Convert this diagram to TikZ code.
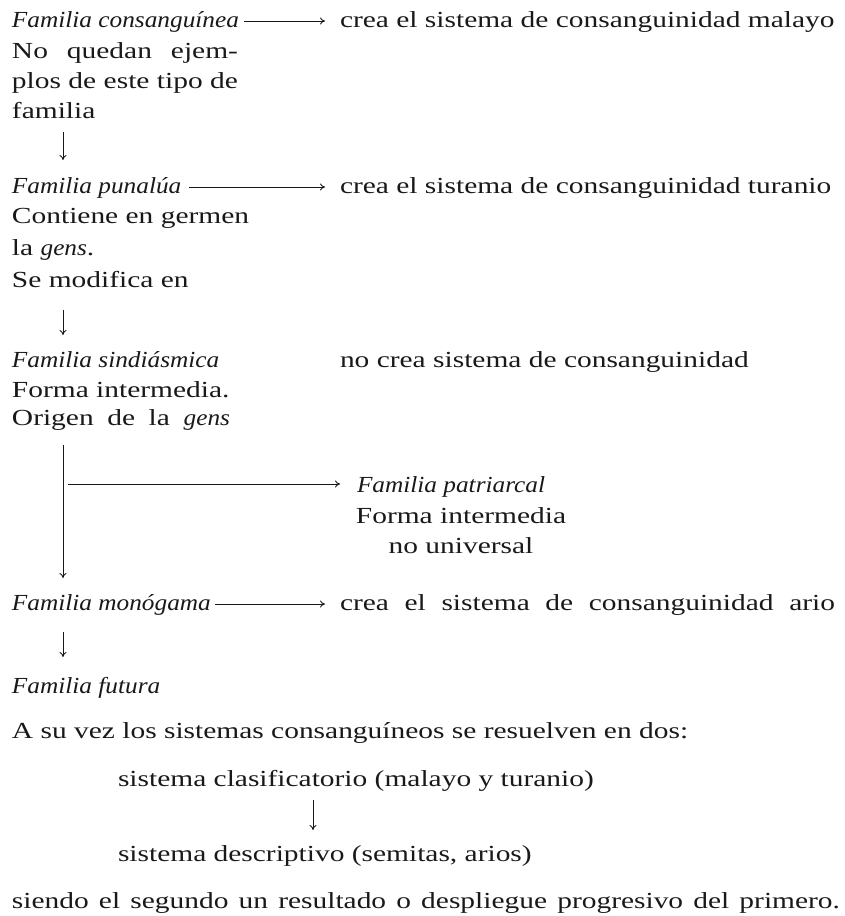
\documentclass[tikz,border=0pt]{standalone}
\usepackage{fontspec}
\setmainfont[FakeStretch=1.28]{Liberation Serif}
\newfontfamily\itf[FakeStretch=1.1]{Liberation Serif Italic}
\newcommand\ital[1]{{\itf #1}}
\usetikzlibrary{arrows.meta}
\begin{document}
\begin{tikzpicture}[x=1pt,y=-1pt,
  txt/.style={anchor=base west, inner sep=0pt, outer sep=0pt, text=black!90,
    font=\fontsize{23pt}{30pt}\selectfont},
  ctxt/.style={txt, anchor=base},
  arr/.style={draw=black!90, line width=0.9pt, -{To[length=5pt,width=7pt]}}]
\useasboundingbox (0,0) rectangle (844,916);
\coordinate (ax) at (63,0);
\coordinate (bx) at (313,0);
% Familia consanguinea
\node[txt] (c1) at (12,27) {\ital{Familia consanguínea}};
\node[txt] (r1) at (340,27) {crea el sistema de consanguinidad malayo};
\node[txt] (l1a) at (12,58) {\makebox[226pt][s]{No quedan ejem-}};
\node[txt] (l1b) at (12,88) {\makebox[226pt][s]{plos de este tipo de}};
\node[txt] (l1c) at (12,118) {familia};
% Familia punalua
\node[txt] (c2) at (12,193) {\ital{Familia punalúa}};
\node[txt] (r2) at (340,193) {crea el sistema de consanguinidad turanio};
\node[txt] (l2a) at (12,223) {Contiene en germen};
\node[txt] (l2b) at (12,255) {la \ital{gens}.};
\node[txt] (l2c) at (12,287) {Se modifica en};
% Familia sindiasmica
\node[txt] (c3) at (12,367) {\ital{Familia sindiásmica}};
\node[txt] (r3) at (340,367) {no crea sistema de consanguinidad};
\node[txt] (l3a) at (12,397) {Forma intermedia.};
\node[txt] (l3b) at (12,425) {\makebox[218pt][s]{Origen de la \ital{gens}}};
% Familia patriarcal
\node[txt] (p1) at (357,492) {\ital{Familia patriarcal}};
\node[ctxt] (p2) at (461,523) {Forma intermedia};
\node[ctxt] (p3) at (461,553) {no universal};
% Familia monogama
\node[txt] (c4) at (12,610) {\ital{Familia monógama}};
\node[txt] (r4) at (340,610) {\makebox[495pt][s]{crea el sistema de consanguinidad ario}};
% Familia futura
\node[txt] (c5) at (12,693) {\ital{Familia futura}};
\node[txt] (t1) at (12,738) {A su vez los sistemas consanguíneos se resuelven en dos:};
\node[txt] (s1) at (118,786) {sistema clasificatorio (malayo y turanio)};
\node[txt] (s2) at (118,861) {sistema descriptivo (semitas, arios)};
\node[txt] (t2) at (12,908) {\makebox[828pt][s]{siendo el segundo un resultado o despliegue progresivo del primero.}};
% horizontal arrows
\draw[arr] ([xshift=5pt,yshift=6pt]c1.base east) -- ([xshift=-15pt,yshift=6pt]r1.base west);
\draw[arr] ([xshift=8pt,yshift=6pt]c2.base east) -- ([xshift=-15pt,yshift=6pt]r2.base west);
\draw[arr] ([xshift=4pt,yshift=6pt]c4.base east) -- ([xshift=-15pt,yshift=6pt]r4.base west);
% vertical arrows
\draw[arr] ([yshift=-14pt]l1c.base -| ax) -- ([yshift=33pt]c2.base -| ax);
\draw[arr] ([yshift=-23pt]l2c.base -| ax) -- ([yshift=32pt]c3.base -| ax);
\draw[arr] ([yshift=-20pt]l3b.base -| ax) -- ([yshift=32pt]c4.base -| ax);
\coordinate (brs) at (68,484);
\draw[arr] (brs) -- ([xshift=-17pt,yshift=8pt]p1.base west);
\draw[arr] ([yshift=-22pt]c4.base -| ax) -- ([yshift=36pt]c5.base -| ax);
\draw[arr] ([yshift=-14pt]s1.base -| bx) -- ([yshift=31pt]s2.base -| bx);
\end{tikzpicture}
\end{document}
